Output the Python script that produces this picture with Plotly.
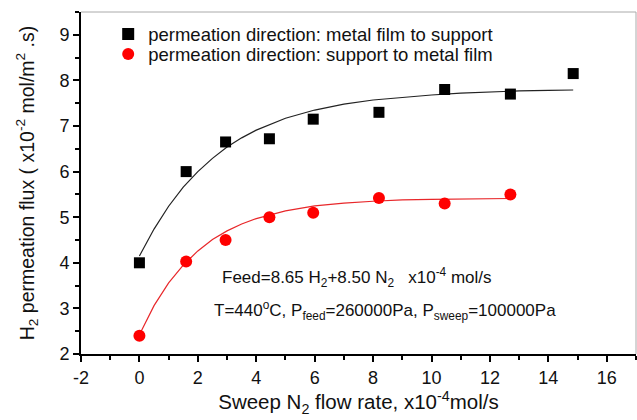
import plotly.graph_objects as go

# measured data
x_metal = [0, 1.6, 2.95, 4.45, 5.95, 8.2, 10.45, 12.7, 14.85]
y_metal = [4.0, 6.0, 6.65, 6.72, 7.15, 7.3, 7.8, 7.7, 8.15]
x_support = [0, 1.6, 2.95, 4.45, 5.95, 8.2, 10.45, 12.7]
y_support = [2.4, 4.03, 4.5, 5.0, 5.1, 5.42, 5.3, 5.5]

# fitted curves
x_fit_metal = [0, 0.5, 1, 1.5, 2, 2.5, 3, 3.5, 4, 5, 6, 7, 8, 9, 10, 11, 12, 13, 14, 14.85]
y_fit_metal = [4.15, 4.74, 5.24, 5.66, 6.00, 6.29, 6.54, 6.74, 6.91, 7.17, 7.35, 7.48,
               7.57, 7.63, 7.68, 7.72, 7.75, 7.77, 7.78, 7.79]
x_fit_support = [0, 0.5, 1, 1.5, 2, 2.5, 3, 3.5, 4, 5, 6, 7, 8, 9, 10, 11, 12, 12.7]
y_fit_support = [2.42, 3.06, 3.56, 3.95, 4.26, 4.51, 4.70, 4.85, 4.97, 5.14, 5.25, 5.31,
                 5.35, 5.38, 5.39, 5.40, 5.41, 5.41]

x_ticks = [-2, 0, 2, 4, 6, 8, 10, 12, 14, 16]
y_ticks = [2, 3, 4, 5, 6, 7, 8, 9]

FONT = "Liberation Sans, Arial, sans-serif"

fig = go.Figure()
fig.add_trace(go.Scatter(x=x_fit_metal, y=y_fit_metal, mode="lines",
                         line=dict(color="#222222", width=1.2), showlegend=False, hoverinfo="skip"))
fig.add_trace(go.Scatter(x=x_fit_support, y=y_fit_support, mode="lines",
                         line=dict(color="#e8272a", width=1.2), showlegend=False, hoverinfo="skip"))
fig.add_trace(go.Scatter(x=x_metal, y=y_metal, mode="markers",
                         marker=dict(symbol="square", size=11, color="black"),
                         name="permeation direction: metal film to support", legend="legend"))
fig.add_trace(go.Scatter(x=x_support, y=y_support, mode="markers",
                         marker=dict(symbol="circle", size=12, color="#ff0000"),
                         name="permeation direction: support to metal film", legend="legend2"))

fig.add_annotation(xref="x", yref="y", x=2.77, y=3.68, xanchor="left", yanchor="middle",
                   text="Feed=8.65 H<sub>2</sub>+8.50 N<sub>2</sub>   x10<sup>-4</sup> mol/s",
                   showarrow=False, font=dict(family=FONT, size=17, color="#111"))
fig.add_annotation(xref="x", yref="y", x=2.5, y=2.96, xanchor="left", yanchor="middle",
                   text="T=440<sup>o</sup>C, P<sub>feed</sub>=260000Pa, P<sub>sweep</sub>=100000Pa",
                   showarrow=False, font=dict(family=FONT, size=17, color="#111"))

# light frame on top and right
fig.add_shape(type="line", xref="paper", yref="paper", x0=0, x1=1, y0=1, y1=1,
              line=dict(color="#aaaaaa", width=1))
fig.add_shape(type="line", xref="paper", yref="paper", x0=1, x1=1, y0=0, y1=1,
              line=dict(color="#aaaaaa", width=1))

legend_common = dict(xanchor="left", yanchor="top", bgcolor="rgba(0,0,0,0)",
                     font=dict(family=FONT, size=18.5), itemsizing="constant")

fig.update_layout(
    width=637, height=420,
    margin=dict(l=81, r=1, t=12, b=66),
    paper_bgcolor="white", plot_bgcolor="white",
    font=dict(family=FONT, size=18, color="#111"),
    legend=dict(x=0.049, y=0.99, **legend_common),
    legend2=dict(x=0.049, y=0.9315, **legend_common),
    xaxis=dict(range=[-2, 17], tickvals=x_ticks, ticktext=[str(v) for v in x_ticks],
               automargin=False,
               showgrid=False, zeroline=False, showline=True, linecolor="black", linewidth=2,
               ticks="outside", ticklen=6, tickwidth=1.5, tickcolor="black",
               minor=dict(ticks="outside", dtick=1, ticklen=4, tickwidth=1.5, tickcolor="black"),
               tickfont=dict(size=18),
               title=dict(text="Sweep N<sub>2</sub> flow rate, x10<sup>-4</sup>mol/s",
                          font=dict(size=20.5), standoff=4)),
    yaxis=dict(range=[2, 9.5], tickvals=y_ticks, ticktext=[str(v) for v in y_ticks],
               automargin=False,
               showgrid=False, zeroline=False, showline=True, linecolor="black", linewidth=2,
               ticks="outside", ticklen=6, tickwidth=1.5, tickcolor="black",
               minor=dict(ticks="outside", dtick=0.5, ticklen=4, tickwidth=1.5, tickcolor="black"),
               tickfont=dict(size=18),
               title=dict(text="H<sub>2</sub> permeation flux ( x10<sup>-2</sup> mol/m<sup>2</sup> .s)",
                          font=dict(size=19.5), standoff=20)),
)

fig.write_html("out.html", config={"displayModeBar": False},
               post_script="document.body.style.margin='0';document.body.style.overflow='hidden';")
